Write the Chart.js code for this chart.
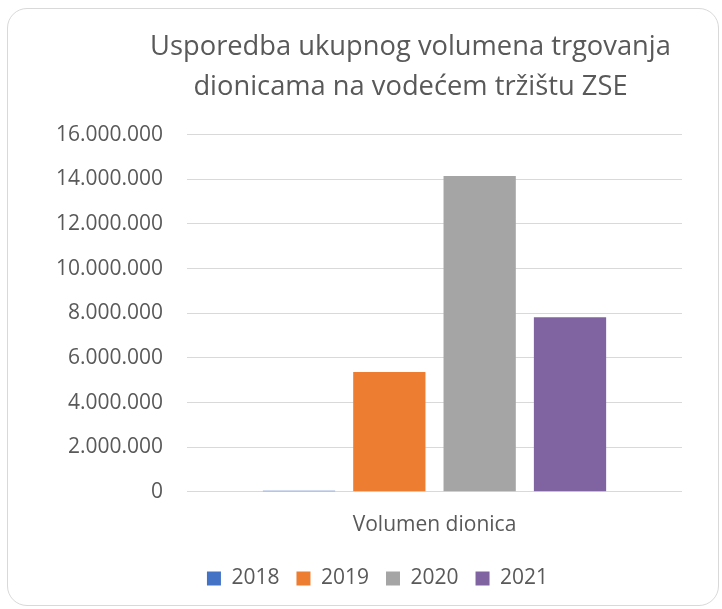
<!DOCTYPE html>
<html>
<head>
<meta charset="utf-8">
<script src="https://cdn.jsdelivr.net/npm/chart.js@4/dist/chart.umd.min.js"></script>
<style>
  body { margin: 0; background: #fff; }
  #card {
    position: absolute; left: 7px; top: 8px; width: 710px; height: 596px;
    border: 1px solid #d9d9d9; border-radius: 20px;
  }
  #chart { position: absolute; left: 0; top: 0; }
</style>
</head>
<body>
<div id="card"></div>
<canvas id="chart" width="722" height="609"></canvas>
<script>
// data
const categories = ["Volumen dionica"];
const years = ["2018", "2019", "2020", "2021"];
const volumes = [50000, 5370000, 14150000, 7820000];
const yearColors = ["#4472C4", "#ED7D31", "#A5A5A5", "#8064A2"];
const titleLines = ["Usporedba ukupnog volumena trgovanja", "dionicama na vodećem tržištu ZSE"];

const grey = "#595959";
const font = "'Open Sans', 'DejaVu Sans', sans-serif";

// thousands separator is a dot
function fmt(v) {
  return String(v).replace(/\B(?=(\d{3})+(?!\d))/g, ".");
}

// Excel centres the title over the plot, not the whole box: nudge it (and the legend) right
const shiftBlocks = {
  id: "shiftBlocks",
  afterLayout(chart) {
    const t = chart.titleBlock;
    if (t) { t.left += 46; t.right += 46; }
    const l = chart.legend;
    if (l) { l.left += 13; l.right += 13; }
  }
};

const datasets = years.map((y, i) => ({
  label: y,
  data: [volumes[i]],
  backgroundColor: yearColors[i],
  borderWidth: 0,
  barPercentage: 0.8,
  categoryPercentage: 0.73
}));

new Chart(document.getElementById("chart"), {
  type: "bar",
  data: { labels: categories, datasets },
  options: {
    responsive: false,
    animation: false,
    layout: { padding: { left: 47, right: 40, top: 0, bottom: 10 } },
    plugins: {
      title: {
        display: true,
        text: titleLines,
        color: grey,
        font: { family: font, size: 27.3, weight: "normal", lineHeight: 1.46 },
        padding: { top: 27, bottom: 28 }
      },
      legend: {
        position: "bottom",
        labels: {
          color: grey,
          font: { family: font, size: 21 },
          boxWidth: 14,
          boxHeight: 14,
          padding: 17
        }
      },
      tooltip: { enabled: false }
    },
    scales: {
      x: {
        grid: { display: false },
        border: { display: false },
        ticks: { color: grey, font: { family: font, size: 21 }, padding: 13 }
      },
      y: {
        min: 0,
        max: 16000000,
        afterFit: s => { s.width = 140; },
        grid: { color: "#d9d9d9", drawTicks: false },
        border: { display: false },
        ticks: {
          stepSize: 2000000,
          color: grey,
          padding: 24,
          font: { family: font, size: 21 },
          callback: v => fmt(v)
        }
      }
    }
  },
  plugins: [shiftBlocks]
});
</script>
</body>
</html>
